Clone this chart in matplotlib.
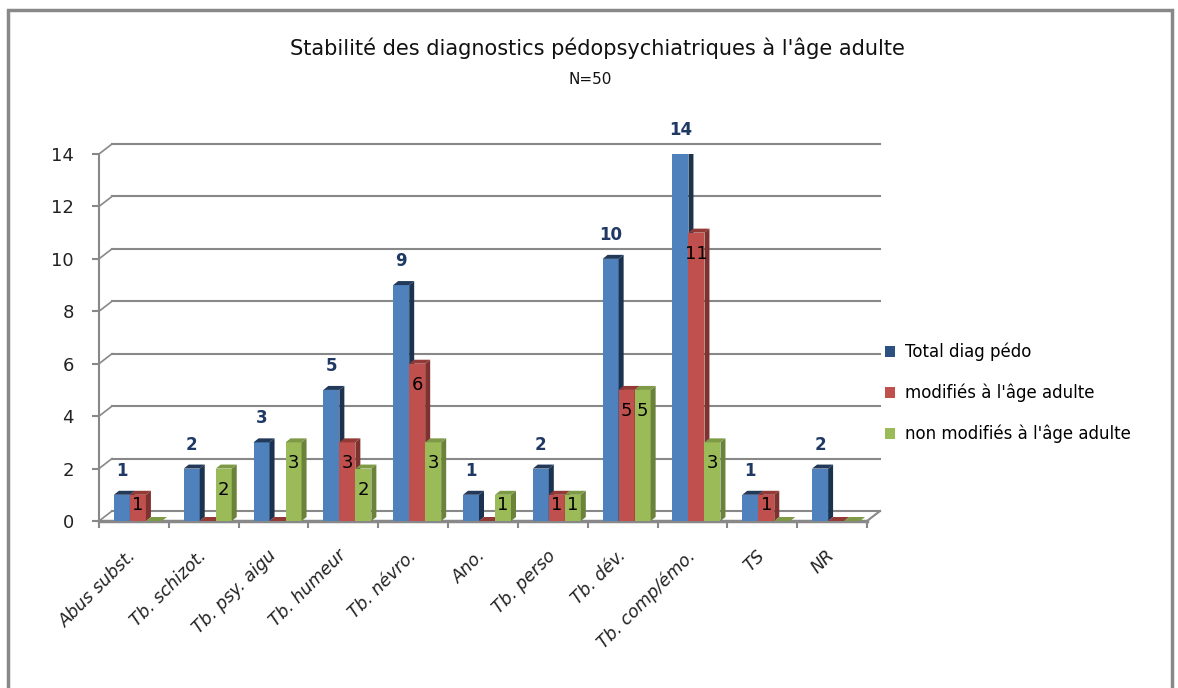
import numpy as np
import matplotlib.pyplot as plt
from matplotlib.patches import Polygon, Patch, Rectangle

categories = ["Abus subst.", "Tb. schizot.", "Tb. psy. aigu", "Tb. humeur", "Tb. névro.",
              "Ano.", "Tb. perso", "Tb. dév.", "Tb. comp/émo.", "TS", "NR"]
total = [1, 2, 3, 5, 9, 1, 2, 10, 14, 1, 2]
modified = [1, 0, 0, 3, 6, 0, 1, 5, 11, 1, 0]
unmodified = [0, 2, 3, 2, 3, 1, 1, 5, 3, 0, 0]
series_names = ["Total diag pédo", "modifiés à l'âge adulte", "non modifiés à l'âge adulte"]
yticks = [0, 2, 4, 6, 8, 10, 12, 14]

front = ["#4F81BD", "#C0504D", "#9BBB59"]
side = ["#1C3350", "#7F312F", "#6A8239"]
top = ["#22395A", "#933A37", "#7E9A47"]
grey = "#888888"

W, H = 1178, 688
fig = plt.figure(figsize=(W / 100, H / 100), dpi=100)
ax_l, ax_b, ax_w, ax_h = 99, 167, 768, 367
ax = fig.add_axes([ax_l / W, ax_b / H, ax_w / W, ax_h / H])
n = len(categories)
ax.set_xlim(-0.5, n - 0.5)
ax.set_ylim(0, 14)
pxx = ax_w / n      # pixels per category
pxy = ax_h / 14     # pixels per unit

# back wall gridlines (offset to fake depth)
gdx, gdy = 13 / pxx, 10 / pxy
for v in yticks:
    ax.plot([-0.5 + gdx, n - 0.5 + gdx], [v + gdy, v + gdy], color=grey, lw=1.5,
            clip_on=False, zorder=1)
    ax.plot([-0.5, -0.5 + gdx], [v, v + gdy], color=grey, lw=1.2, clip_on=False, zorder=1)
ax.plot([n - 0.5, n - 0.5 + gdx], [0, gdy], color=grey, lw=1.5, clip_on=False, zorder=1)

# bars with side and top faces
w = 16 / pxx
shift = 4 / pxx
bdx, bdy = 5 / pxx, 4 / pxy
x = np.arange(n)
for i, vals in enumerate([total, modified, unmodified]):
    xs = x + (i - 1) * w + shift
    z = 3 + i
    ax.bar(xs, vals, width=w, color=front[i], edgecolor="none", zorder=z)
    for xc, v in zip(xs, vals):
        r = xc + w / 2
        l = xc - w / 2
        ax.add_patch(Polygon([(r, 0), (r + bdx, bdy), (r + bdx, v + bdy), (r, v)],
                             closed=True, facecolor=side[i], edgecolor="none", zorder=z))
        ax.add_patch(Polygon([(l, v), (l + bdx, v + bdy), (r + bdx, v + bdy), (r, v)],
                             closed=True, facecolor=top[i], edgecolor="none", zorder=z))
        if v == 0:
            continue
        if i == 0:
            ax.text(xc, v + 24 / pxy, str(v), ha="center", va="center", fontsize=12,
                    fontweight="bold", color="#1F3864", zorder=10, clip_on=False)
        else:
            ax.text(xc, v - min(0.8, 0.4 * v), str(v), ha="center", va="center",
                    fontsize=13, color="black", zorder=10)

# axes styling
for s in ["top", "right"]:
    ax.spines[s].set_visible(False)
ax.spines["left"].set_color(grey)
ax.spines["left"].set_linewidth(1.5)
ax.spines["bottom"].set_color(grey)
ax.spines["bottom"].set_linewidth(2.5)
ax.set_yticks(yticks)
ax.set_yticklabels([str(v) for v in yticks], fontsize=13, color="#222222")
ax.tick_params(axis="y", length=5, width=1.5, color=grey, pad=13)
ax.set_xticks(x)
ax.set_xticklabels(categories, rotation=45, ha="right", va="center",
                   rotation_mode="anchor", fontsize=12.5, fontstyle="italic", color="#222222")
ax.set_xticks(np.arange(-0.5, n), minor=True)
ax.tick_params(axis="x", which="major", length=0, pad=23)
ax.tick_params(axis="x", which="minor", length=5, width=1.5, color=grey, direction="out")

# legend
handles = [Patch(facecolor="#2C5080"), Patch(facecolor=front[1]), Patch(facecolor=front[2])]
fig.legend(handles, series_names, loc="center left", bbox_to_anchor=(885 / W, 1 - 393 / H),
           frameon=False, fontsize=12, handlelength=0.6, handleheight=0.6,
           handletextpad=0.6, labelspacing=1.35, borderaxespad=0, borderpad=0)

fig.text(597 / W, 1 - 48 / H, "Stabilité des diagnostics pédopsychiatriques à l'âge adulte",
         ha="center", va="center", fontsize=15, color="#111111")
fig.text(590 / W, 1 - 80 / H, "N=50", ha="center", va="center", fontsize=11, color="#111111")

fig.add_artist(Rectangle((8 / W, -0.05), (1172 - 8) / W, 1.05 - 10 / H,
                         transform=fig.transFigure, fill=False, edgecolor=grey, lw=2.5))

fig.savefig("out.png", dpi=100)
